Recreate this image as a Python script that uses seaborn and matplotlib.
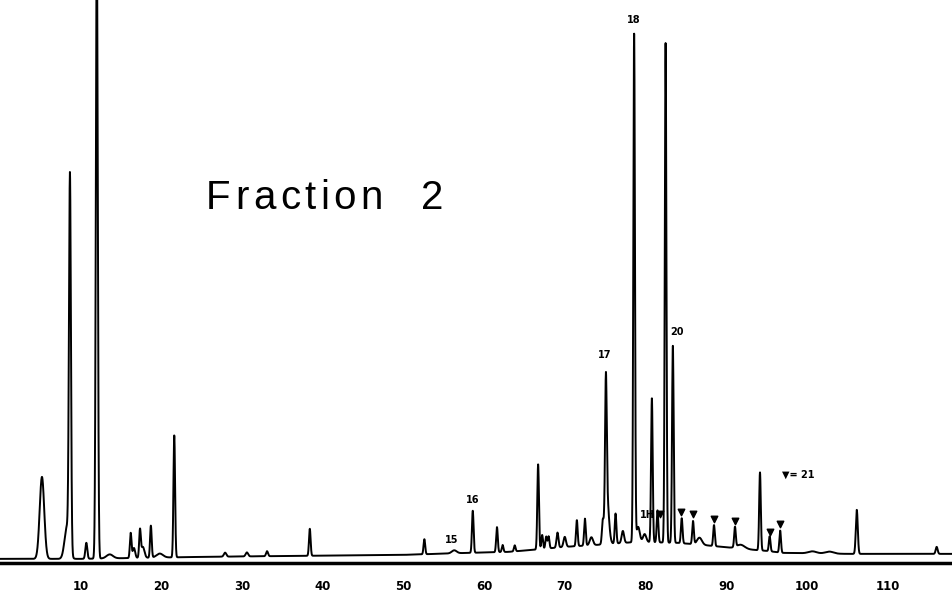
import numpy as np
import matplotlib
matplotlib.use("Agg")
import matplotlib.pyplot as plt
import seaborn as sns
import pandas as pd

# Retention times (min), heights above baseline and peak widths
peak_time = [5.2, 8.3, 8.67, 10.7, 12.0, 13.6, 16.2, 16.6, 17.35, 17.7, 18.7, 19.8,
             21.6, 27.9, 30.6, 33.1, 38.4, 52.6, 56.3, 58.6, 61.6, 62.3, 63.8,
             66.7, 67.2, 67.7, 68.0, 69.1, 70.0, 71.5, 72.5, 73.3, 74.7, 75.1,
             75.2, 76.3, 77.2, 78.6, 79.1, 79.9, 80.8, 81.5, 82.5, 83.4, 84.5,
             85.9, 86.7, 88.5, 91.1, 91.8, 94.2, 95.4, 96.7, 100.7, 102.8, 106.2,
             116.1]
peak_height = [82, 32, 372, 16, 619, 4, 25, 10, 27, 11, 32, 4,
               122, 4, 4, 5, 27, 15, 3, 42, 25, 7, 6,
               85, 14, 12, 12, 15, 10, 26, 27, 8, 18, 126,
               50, 30, 12, 508, 15, 8, 144, 32, 500, 197, 25,
               23, 7, 21, 20, 4, 78, 15, 22, 2, 2, 44,
               7]
peak_width = [0.28, 0.3, 0.12, 0.12, 0.12, 0.4, 0.1, 0.15, 0.1, 0.2, 0.1, 0.4,
              0.1, 0.15, 0.15, 0.12, 0.1, 0.1, 0.3, 0.1, 0.1, 0.1, 0.1,
              0.1, 0.1, 0.1, 0.1, 0.12, 0.15, 0.1, 0.1, 0.2, 0.1, 0.1,
              0.25, 0.1, 0.15, 0.1, 0.2, 0.2, 0.1, 0.1, 0.1, 0.1, 0.1,
              0.1, 0.3, 0.1, 0.1, 0.5, 0.1, 0.1, 0.1, 0.5, 0.5, 0.12,
              0.12]

# Baseline drift (unresolved hump)
base_time = [0, 10, 25, 37, 50, 58, 63, 66, 70, 74, 79, 84, 87, 92, 95, 97, 105, 118]
base_level = [1, 1, 3, 4, 5, 7, 8, 10, 13, 15, 18, 17, 15, 11, 9, 7, 6, 6]

# Peak labels
label_text = ["18", "20", "17", "16", "15", "1H", "▼= 21"]
label_time = [78.6, 83.9, 75.0, 58.6, 56.0, 80.2, 98.9]
label_level = [540, 228, 205, 60, 20, 45, 85]

# Triangles marking peaks
mark_time = [81.8, 84.4, 85.9, 88.5, 91.1, 95.4, 96.7]
mark_level = [46, 48, 46, 41, 39, 28, 36]

title = "Fraction"
title_num = "2"

t = np.linspace(0, 118, 14000)
signal = np.interp(t, base_time, base_level)
for c, h, w in zip(peak_time, peak_height, peak_width):
    signal = signal + h * np.exp(-0.5 * ((t - c) / w) ** 2)
df = pd.DataFrame({"time": t, "signal": signal})

sns.set_style("white")
fig = plt.figure(figsize=(9.52, 5.95), dpi=100)
ax = fig.add_axes([0, 0.054, 1, 0.946])

sns.lineplot(data=df, x="time", y="signal", ax=ax, color="black",
             linewidth=1.4, estimator=None, sort=False)

ax.scatter(mark_time, mark_level, marker="v", s=22, color="black", zorder=3)
for s, x, y in zip(label_text, label_time, label_level):
    ax.text(x, y, s, ha="center", va="center", fontsize=7, fontweight="bold",
            color="black")

# widely spaced title letters
renderer = fig.canvas.get_renderer()
xpos = 206
for ch in title:
    txt = fig.text(xpos / 952, (595 - 209) / 595, ch, fontsize=29,
                   family="Liberation Sans", color="black", va="baseline")
    bb = txt.get_window_extent(renderer)
    xpos = bb.x1 + 4.5
fig.text(421 / 952, (595 - 209) / 595, title_num, fontsize=29,
         family="Liberation Sans", color="black", va="baseline")

ax.set_xlim(0, 118)
ax.set_ylim(-3, 560)
for side in ["top", "left", "right"]:
    ax.spines[side].set_visible(False)
ax.spines["bottom"].set_linewidth(2.5)
ax.spines["bottom"].set_color("black")
ax.set_yticks([])
ax.set_xticks(range(10, 111, 10))
ax.set_xticklabels([str(v) for v in range(10, 111, 10)], fontsize=8.5,
                   fontweight="bold", color="black")
ax.set_xticks(range(5, 116, 10), minor=True)
ax.tick_params(axis="x", which="major", length=0, pad=12)
ax.tick_params(axis="x", which="minor", length=4, width=1.2, color="black", direction="out")
ax.set_xlabel("")
ax.set_ylabel("")

fig.savefig("out.png", dpi=100)
